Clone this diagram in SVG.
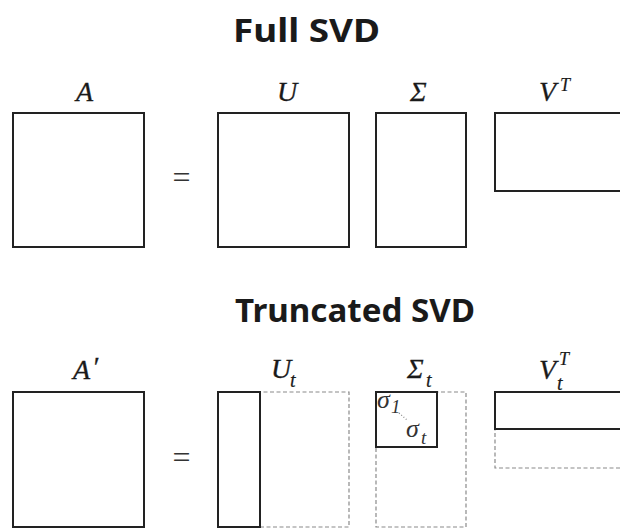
<svg xmlns="http://www.w3.org/2000/svg" width="620" height="529" viewBox="0 0 620 529">
<style>
.title{font-family:"Noto Sans","Open Sans","DejaVu Sans",sans-serif;font-weight:bold;font-size:32px;fill:#1a1a1a}
.m{font-family:"Liberation Serif","DejaVu Serif",serif;font-style:italic;font-size:28px;fill:#1a1a1a;stroke:#1a1a1a;stroke-width:0.3}
.sup{font-family:"Liberation Serif","DejaVu Serif",serif;font-style:italic;font-size:18px;fill:#1a1a1a;stroke:#1a1a1a;stroke-width:0.2}
.lsub{font-family:"Liberation Serif","DejaVu Serif",serif;font-style:italic;font-size:20px;fill:#1a1a1a;stroke:#1a1a1a;stroke-width:0.2}
.eq{font-family:"Liberation Serif","DejaVu Serif",serif;font-size:32px;fill:#333}
.sig{font-family:"Liberation Serif","DejaVu Serif",serif;font-style:italic;font-size:26px;fill:#333}
.sub{font-family:"Liberation Serif","DejaVu Serif",serif;font-style:italic;font-size:19px;fill:#333}
.solid{fill:none;stroke:#222;stroke-width:2}
.dash{fill:none;stroke:#8a8a8a;stroke-width:1.2;stroke-dasharray:4 2.5}
</style>
<rect width="620" height="529" fill="#fff"/>

<g id="title-full"><text class="title" x="233" y="42" textLength="147" lengthAdjust="spacingAndGlyphs">Full SVD</text></g>
<g id="title-trunc"><text class="title" x="235" y="322" textLength="240" lengthAdjust="spacingAndGlyphs">Truncated SVD</text></g>

<!-- Full SVD -->
<g id="A">
<text class="m" x="76" y="101">A</text>
<rect class="solid" x="13" y="113" width="131" height="134"/>
</g>
<g id="eq1"><text class="eq" x="181.5" y="188" text-anchor="middle">=</text></g>
<g id="U">
<text class="m" x="277" y="101">U</text>
<rect class="solid" x="218" y="113" width="131" height="134"/>
</g>
<g id="Sigma">
<text class="m" x="410" y="101">Σ</text>
<rect class="solid" x="376" y="113" width="90" height="134"/>
</g>
<g id="VT">
<text class="m" x="539" y="101">V</text><text class="sup" x="560" y="91">T</text>
<rect class="solid" x="495" y="113" width="135" height="78"/>
</g>

<!-- Truncated SVD -->
<g id="Aprime">
<text class="m" x="73" y="379">A</text><text class="m" x="92" y="376" font-style="normal" font-size="22">′</text>
<rect class="solid" x="13" y="392" width="131" height="135"/>
</g>
<g id="eq2"><text class="eq" x="181.5" y="468" text-anchor="middle">=</text></g>
<g id="Ut">
<text class="m" x="271" y="378">U</text><text class="lsub" x="290" y="387">t</text>
<rect class="dash" x="218" y="392" width="131" height="135"/>
<rect class="solid" x="218" y="392" width="42" height="135"/>
</g>
<g id="Sigmat">
<text class="m" x="407" y="378">Σ</text><text class="lsub" x="426" y="387">t</text>
<rect class="dash" x="376" y="392" width="90" height="135"/>
<rect class="solid" x="376" y="392" width="61" height="55"/>
<text class="sig" x="377" y="408">σ</text><text class="sub" x="391" y="413" font-style="normal">1</text>
<path d="M399 413 L407 420" stroke="#888" stroke-width="1.3" stroke-dasharray="1 2" fill="none"/>
<text class="sig" x="406" y="437">σ</text><text class="sub" x="421" y="444">t</text>
</g>
<g id="Vt">
<text class="m" x="539" y="379">V</text><text class="sup" x="559" y="365">T</text><text class="lsub" x="557" y="390">t</text>
<rect class="dash" x="495" y="392" width="135" height="76"/>
<rect class="solid" x="495" y="392" width="135" height="37"/>
</g>
</svg>
